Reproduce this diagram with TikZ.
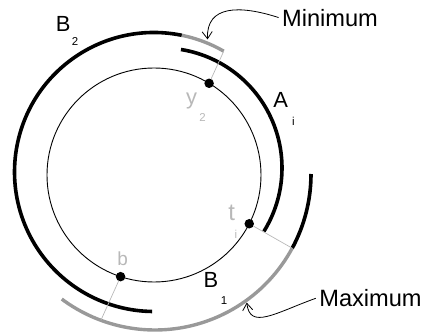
\documentclass[tikz,border=0pt]{standalone}
\usepackage{fontspec}
\setmainfont{Liberation Sans}
\usetikzlibrary{arrows.meta,calc}
\definecolor{arcgray}{gray}{0.6}
\definecolor{lblgray}{gray}{0.72}

\begin{document}
\begin{tikzpicture}[x=1bp,y=1bp,
  band/.style={line width=3.6bp,black},
  greyband/.style={line width=3.4bp,arcgray},
  spoke/.style={line width=0.7bp,lblgray},
  pt/.style={circle,fill=black,inner sep=0pt,minimum size=9.5bp},
  big/.style={font=\fontsize{22}{22}\selectfont,anchor=base},
  sub/.style={font=\fontsize{11.5}{11.5}\selectfont,anchor=base},
  callout/.style={line width=0.8bp,-{Straight Barb[length=7bp,width=10bp]}}]
  \useasboundingbox (0,0) rectangle (423,335);

  % centres of the circle and of the arcs
  \coordinate (O) at (154,160);
  \coordinate (cB2) at (154,163);
  \coordinate (cA) at (162,167);
  \coordinate (cB1) at (155,161);

  % inner circle and its three points
  \draw[line width=0.9bp] (O) circle (107);
  \node[pt] (y2) at ($(O)+(59:107)$) {};
  \node[pt] (ti) at ($(O)+(-27.1:107)$) {};
  \node[pt] (b) at ($(O)+(-108.2:107)$) {};

  % arc B_2 with the minimum part
  \coordinate (minend) at ($(cB2)+(60:139.5)$);
  \draw[band] ($(cB2)+(78.5:139.5)$) arc[start angle=78.5,end angle=269.2,radius=139.5];
  \draw[greyband] (minend) arc[start angle=60,end angle=78.5,radius=139.5];

  % arc A_i
  \draw[band] ($(cA)+(80.9:120)$) arc[start angle=80.9,end angle=-31.9,radius=120];

  % arc B_1 with the maximum part
  \coordinate (maxstart) at ($(cB1)+(-28.4:156)$);
  \coordinate (bfoot) at ($(cB1)+(-110.3:156)$);
  \draw[band] (maxstart) arc[start angle=-28.4,end angle=0,radius=156];
  \draw[greyband] (maxstart) arc[start angle=-28.4,end angle=-126.7,radius=156];

  % spokes
  \draw[spoke] (y2) -- (minend);
  \draw[spoke] (ti) -- (maxstart);
  \draw[spoke] (b) -- (bfoot);

  % labels
  \node[big] at (63.3,304) {B};
  \node[sub] at (75,290) {2};
  \node[big] at (280.7,227.3) {A};
  \node[sub] at (293.3,210) {i};
  \node[big,lblgray] at (191.7,230.3) {y};
  \node[sub,lblgray] at (202.5,213.3) {2};
  \node[big,lblgray,font=\fontsize{24}{24}\selectfont] at (231.7,115) {t};
  \node[sub,lblgray] at (236,96.7) {i};
  \node[big,lblgray,font=\fontsize{19}{19}\selectfont] at (122.7,69.3) {b};
  \node[big] at (211,47.7) {B};
  \node[sub] at (224,31) {1};

  % callouts
  \node[big,font=\fontsize{23.7}{23.7}\selectfont] (min) at (330,309) {Minimum};
  \node[big,font=\fontsize{23.7}{23.7}\selectfont] (max) at (370.5,28.3) {Maximum};
  \coordinate (mintip) at ($(cB2)+(68:143)$);
  \coordinate (maxtip) at ($(cB1)+(-54.5:158)$);
  \draw[callout] (min.west) .. controls (240,330) and (206,330) .. (mintip);
  \draw[callout] (max.west) .. controls (275,22) and (250,5) .. (maxtip);
\end{tikzpicture}
\end{document}
